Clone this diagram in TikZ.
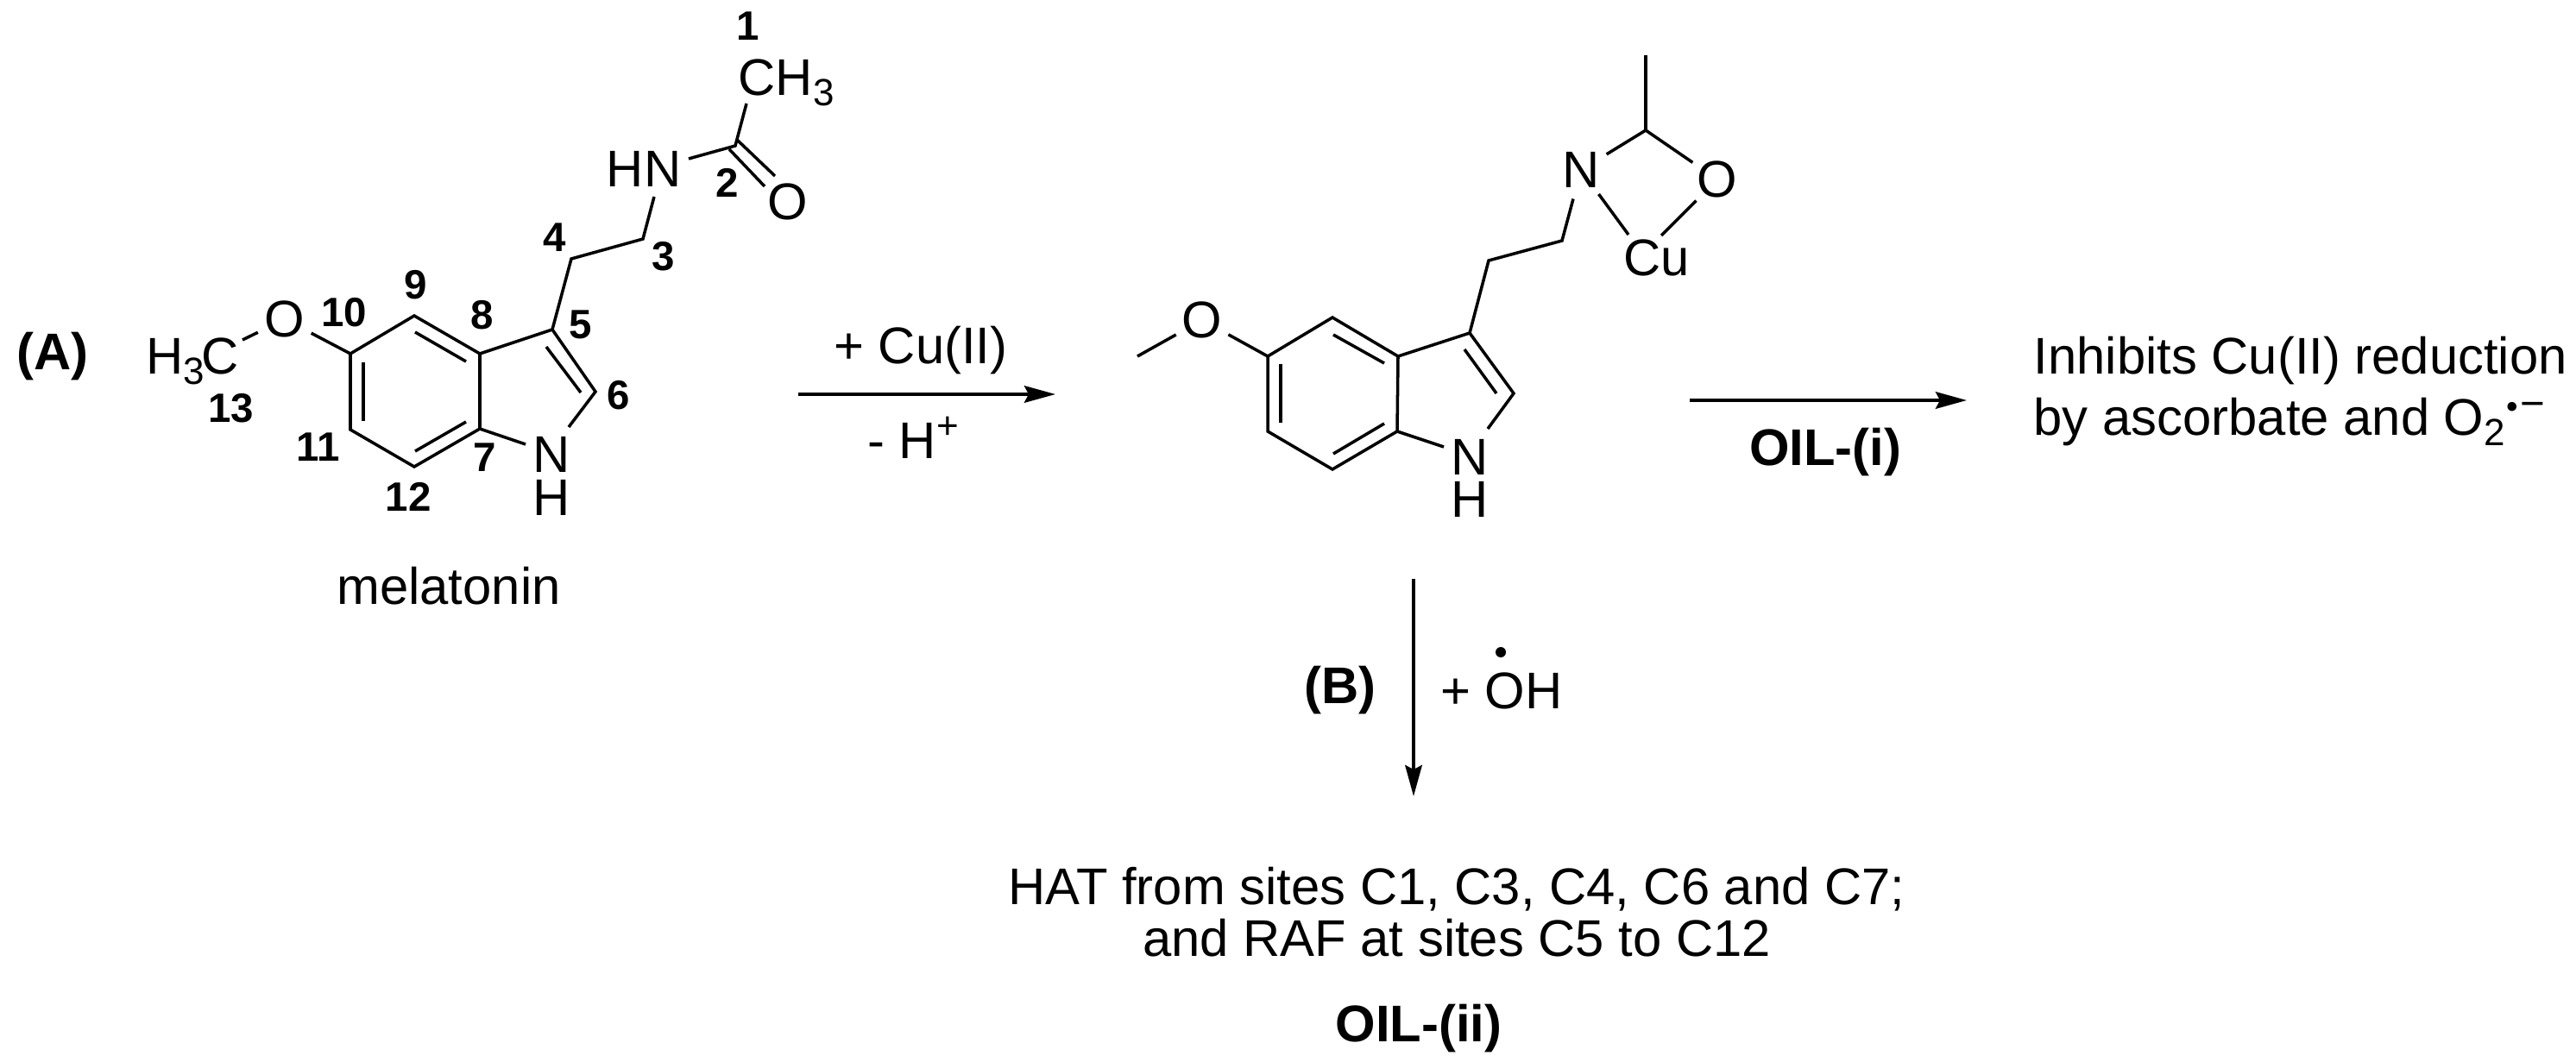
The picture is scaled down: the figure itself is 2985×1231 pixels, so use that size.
\documentclass[tikz,border=0pt]{standalone}
\usepackage{fontspec}
\setmainfont{Liberation Sans}
\usetikzlibrary{arrows.meta}
\newcommand{\lowidx}[1]{\raisebox{-3.4pt}{\fontsize{12.5}{12.5}\selectfont #1}}
\newcommand{\upidx}[1]{\raisebox{6.6pt}{\fontsize{12.5}{12.5}\selectfont #1}}
\tikzset{
 atomtxt/.style={font=\fontsize{17}{20}\selectfont,inner sep=0pt},
 atom/.style={atomtxt,circle,minimum size=0.68cm},
 numtxt/.style={font=\fontsize{13.5}{15}\selectfont\bfseries,inner sep=0pt},
 lbl/.style={font=\fontsize{17}{20}\selectfont,inner sep=0pt},
 boldlbl/.style={font=\fontsize{17}{20}\selectfont\bfseries,inner sep=0pt},
 bond/.style={line width=1pt},
 rxn/.style={line width=1.13pt,-{Stealth[length=3.6mm,width=1.95mm,inset=0.5mm]}}
}
\begin{document}
\begin{tikzpicture}[x=0.01cm,y=-0.01cm]
 \useasboundingbox (0,0) rectangle (2985,1231);
 % melatonin
 \coordinate (a5) at (640,382);
 \coordinate (a6) at (690,454);
 \coordinate (a7) at (556,497);
 \coordinate (a8) at (556,410);
 \coordinate (a9) at (480,366);
 \coordinate (a10) at (406,410);
 \coordinate (a11) at (406,498);
 \coordinate (a12) at (480,541);
 \coordinate (a4) at (662,300);
 \coordinate (a3) at (745,277);
 \coordinate (a2) at (852,169);
 \coordinate (ahn3) at (758,228);
 \coordinate (ahn2) at (798,184);
 \coordinate (ach) at (865,120);
 \coordinate (ahc) at (281,394);
 \coordinate (an1) at (659,495);
 \coordinate (an2) at (609,515);
 \node[atom] (aO) at (330,370) {O};
 \node[atomtxt] (aN) at (639,527) {N};
 \node[atom] (aOd) at (913,234) {O};
 \node[atomtxt] (aH) at (639,577) {H};
 \node[atomtxt,anchor=base] (aHN) at (746,217) {HN};
 \node[atomtxt,anchor=base west] (aCH) at (855,111) {CH\lowidx{3}};
 \node[atomtxt,anchor=base west] (aHC) at (169,434) {H\lowidx{3}\kern-1pt C};
 \draw[bond] (a10)--(a9)--(a8)--(a7)--(a12)--(a11)--cycle;
 \draw[bond] (a8)--(a5)--(a6)--(an1);
 \draw[bond] (an2)--(a7);
 \draw[bond] (a5)--(a4)--(a3)--(ahn3);
 \draw[bond] (ahn2)--(a2)--(ach);
 \draw[bond] (aO)--(a10);
 \draw[bond] (aO)--(ahc);
 \coordinate (ai1) at (421,420); \coordinate (ai2) at (421,488);
 \coordinate (ai3) at (481,385); \coordinate (ai4) at (540,419);
 \coordinate (ai5) at (481,523); \coordinate (ai6) at (540,489);
 \coordinate (ai7) at (633,402); \coordinate (ai8) at (673,455);
 \draw[bond] (ai1)--(ai2);
 \draw[bond] (ai3)--(ai4);
 \draw[bond] (ai5)--(ai6);
 \draw[bond] (ai7)--(ai8);
 \coordinate (ad1) at (854,162); \coordinate (ad2) at (898,204);
 \coordinate (ad3) at (845,173); \coordinate (ad4) at (886,216);
 \draw[bond] (ad1)--(ad2);
 \draw[bond] (ad3)--(ad4);
 % site numbers
 \node[numtxt] (n1) at (867,30) {1};
 \node[numtxt] (n2) at (843,212) {2};
 \node[numtxt] (n3) at (769,297) {3};
 \node[numtxt] (n4) at (643,275) {4};
 \node[numtxt] (n5) at (673,376) {5};
 \node[numtxt] (n6) at (717,458) {6};
 \node[numtxt] (n7) at (562,530) {7};
 \node[numtxt] (n8) at (559,365) {8};
 \node[numtxt] (n9) at (482,330) {9};
 \node[numtxt] (n10) at (399,362) {10};
 \node[numtxt] (n11) at (369,518) {11};
 \node[numtxt] (n12) at (473,576) {12};
 \node[numtxt] (n13) at (268,473) {13};
 \node[boldlbl,anchor=base] (labA) at (61,429) {(A)};
 \node[lbl,anchor=base] (mel) at (520,700) {melatonin};
 % copper complex
 \coordinate (b5) at (1703,386);
 \coordinate (b6) at (1754,456);
 \coordinate (b7) at (1619,500);
 \coordinate (b8) at (1620,413);
 \coordinate (b9) at (1544,368);
 \coordinate (b10) at (1469,413);
 \coordinate (b11) at (1469,500);
 \coordinate (b12) at (1544,544);
 \coordinate (b4) at (1725,302);
 \coordinate (b3) at (1810,279);
 \coordinate (b2) at (1907,151);
 \coordinate (bme) at (1907,64);
 \coordinate (bom) at (1318,413);
 \coordinate (bcu1) at (1887,272);
 \coordinate (bcu2) at (1925,273);
 \coordinate (bn1) at (1724,497);
 \coordinate (bn2) at (1673,518);
 \node[atom] (bO) at (1393,371) {O};
 \node[atomtxt] (bN) at (1703,530) {N};
 \node[atomtxt] (bH) at (1703,579) {H};
 \node[atom] (bNc) at (1832,197) {N};
 \node[atom] (bOc) at (1990,208) {O};
 \node[atomtxt,anchor=base] (bCu) at (1920,320) {Cu};
 \draw[bond] (b10)--(b9)--(b8)--(b7)--(b12)--(b11)--cycle;
 \draw[bond] (b8)--(b5)--(b6)--(bn1);
 \draw[bond] (bn2)--(b7);
 \draw[bond] (b5)--(b4)--(b3)--(bNc)--(b2)--(bOc);
 \draw[bond] (b2)--(bme);
 \draw[bond] (bO)--(b10);
 \draw[bond] (bO)--(bom);
 \draw[bond] (bNc)--(bcu1);
 \draw[bond] (bOc)--(bcu2);
 \coordinate (bi1) at (1484,422); \coordinate (bi2) at (1484,490);
 \coordinate (bi3) at (1545,388); \coordinate (bi4) at (1604,421);
 \coordinate (bi5) at (1545,526); \coordinate (bi6) at (1604,491);
 \coordinate (bi7) at (1697,405); \coordinate (bi8) at (1734,456);
 \draw[bond] (bi1)--(bi2);
 \draw[bond] (bi3)--(bi4);
 \draw[bond] (bi5)--(bi6);
 \draw[bond] (bi7)--(bi8);
 % reactions
 \coordinate (r1s) at (925,457); \coordinate (r1e) at (1223,457);
 \coordinate (r2s) at (1958,464); \coordinate (r2e) at (2279,464);
 \coordinate (r3s) at (1638,671); \coordinate (r3e) at (1638,923);
 \draw[rxn] (r1s)--(r1e);
 \draw[rxn] (r2s)--(r2e);
 \draw[rxn] (r3s)--(r3e);
 \node[lbl,anchor=base] (cu2) at (1067,422) {+ Cu(II)};
 \node[lbl,anchor=base] (hp) at (1058,532) {- H\upidx{+}};
 \node[boldlbl,anchor=base] (oili) at (2115,540) {OIL-(i)};
 \node[lbl,anchor=base west] (inh) at (2356,434) {Inhibits Cu(II) reduction};
 \node[lbl,anchor=base west] (asc) at (2356,505) {by ascorbate and O\lowidx{2}\raisebox{5.8pt}{\fontsize{11}{11}\selectfont\kern0.5pt\textbullet\fontsize{14}{14}\selectfont\kern0.5pt−}};
 \node[boldlbl,anchor=base] (labB) at (1553,815) {(B)};
 \node[lbl,anchor=base] (oh) at (1740,821) {+ OH};
 \fill (1739,756) circle (6);
 \node[lbl,anchor=base] (hat) at (1688,1048) {HAT from sites C1, C3, C4, C6 and C7;};
 \node[lbl,anchor=base] (raf) at (1688,1108) {and RAF at sites C5 to C12};
 \node[boldlbl,anchor=base] (oilii) at (1644,1207) {OIL-(ii)};
\end{tikzpicture}
\end{document}
